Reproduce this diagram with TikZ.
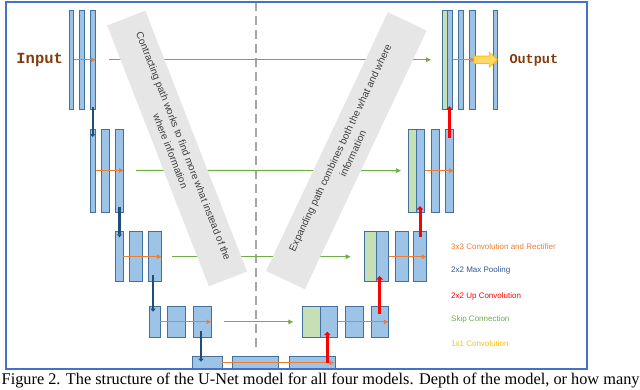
\documentclass[tikz,border=0pt]{standalone}
\usepackage{fontspec}
\setmainfont{Liberation Serif}
\setsansfont{Liberation Sans}
\newfontfamily\monob{Liberation Mono}
\usetikzlibrary{fit,calc,arrows.meta}

\definecolor{barfill}{HTML}{9DC3E6}
\definecolor{barline}{HTML}{41719C}
\definecolor{grnfill}{HTML}{C5E0B4}
\definecolor{convc}{HTML}{ED7D31}
\definecolor{poolc}{HTML}{1F4E79}
\definecolor{upc}{HTML}{FF0000}
\definecolor{skipc}{HTML}{70AD47}
\definecolor{onec}{HTML}{FFC000}
\definecolor{yelfill}{HTML}{FFD966}
\definecolor{framec}{HTML}{4472C4}
\definecolor{boxgrey}{HTML}{E7E6E6}
\definecolor{boxtext}{HTML}{404040}
\definecolor{dashc}{HTML}{A6A6A6}
\definecolor{iotext}{HTML}{843C0C}
\definecolor{legblue}{HTML}{2F5597}

\tikzset{
  blk/.style={draw=barline, fill=barfill, line width=0.7pt, inner sep=0pt, outer sep=0pt},
  gblk/.style={blk, fill=grnfill},
  convar/.style={draw=convc, line width=1.1pt, -{Triangle[length=4.5pt,width=4.5pt]}},
  poolar/.style={draw=poolc, line width=2.4pt, -{Triangle[length=3pt,width=5pt]}},
  uparr/.style={draw=upc, line width=3pt, -{Triangle[length=3.5pt,width=6.5pt]}},
  skipar/.style={draw=skipc, line width=1.2pt, -{Triangle[length=5pt,width=4.5pt]}},
  yarr/.style={fill=yelfill, draw=onec, line width=0.8pt, line join=miter},
  gbox/.style={fill=boxgrey, draw=none, inner sep=0pt, align=center, text=boxtext,
    font=\sffamily\fontsize{10}{14}\selectfont},
  dashline/.style={draw=dashc, line width=2.5pt, dash pattern=on 9pt off 5pt},
  iolabel/.style={text=iotext, inner sep=0pt},
  leg/.style={anchor=west, inner sep=0pt, font=\sffamily\fontsize{8}{9.6}\selectfont}
}
\newcommand{\ublk}[6]{%
  \coordinate (#1-nw) at (#2,#3);
  \coordinate (#1-se) at (#4,#5);
  \node[#6, fit=(#1-nw)(#1-se)] (#1) {};}

\begin{document}
\begin{tikzpicture}[x=1pt,y=-1pt]
\useasboundingbox (0,0) rectangle (640,389);

% dashed divider
\coordinate (dtop) at (256,2);
\coordinate (dbot) at (256,350.7);
\draw[dashline] (dtop) -- (dbot);

% contracting blocks
\ublk{c1a}{69}{10}{73.5}{109.5}{blk}
\ublk{c1b}{79}{10}{84}{109.5}{blk}
\ublk{c1c}{90}{10}{95.5}{109.5}{blk}
\ublk{c2a}{90}{129}{95.5}{212}{blk}
\ublk{c2b}{101}{129}{109.5}{212}{blk}
\ublk{c2c}{115.5}{129}{123.5}{212}{blk}
\ublk{c3a}{115.5}{231.7}{123.3}{281.7}{blk}
\ublk{c3b}{129.7}{231.7}{142.3}{281.7}{blk}
\ublk{c3c}{148.7}{231.7}{161.3}{281.7}{blk}
\ublk{c4a}{149}{306}{160.3}{337.7}{blk}
\ublk{c4b}{167.7}{306}{185.7}{337.7}{blk}
\ublk{c4c}{193}{306}{211}{337.7}{blk}
\ublk{c5a}{192.7}{356}{222}{369.4}{blk}
\ublk{c5b}{232.3}{356}{278.7}{369.4}{blk}
\ublk{c5c}{289.3}{356}{335.7}{369.4}{blk}
% expanding blocks
\ublk{e4a}{302.5}{306}{320.5}{337.7}{gblk}
\ublk{e4b}{320.5}{306}{337.7}{337.7}{blk}
\ublk{e4c}{345.5}{306}{363.3}{337.7}{blk}
\ublk{e4d}{371}{306}{388.3}{337.7}{blk}
\ublk{e3a}{364.7}{231.7}{376.7}{281.7}{gblk}
\ublk{e3b}{376.7}{231.7}{388.7}{281.7}{blk}
\ublk{e3c}{395.3}{231.7}{408}{281.7}{blk}
\ublk{e3d}{413.7}{231.7}{426.3}{281.7}{blk}
\ublk{e2a}{408.7}{129.3}{416.7}{212}{gblk}
\ublk{e2b}{416.7}{129.3}{424.7}{212}{blk}
\ublk{e2c}{431}{129.3}{439.7}{212}{blk}
\ublk{e2d}{445.3}{129.3}{453.7}{212}{blk}
\ublk{e1a}{442.3}{10}{447.3}{109.5}{gblk}
\ublk{e1b}{447.3}{10}{452.7}{109.5}{blk}
\ublk{e1c}{458.3}{10}{463.7}{109.5}{blk}
\ublk{e1d}{469.3}{10}{475}{109.5}{blk}
\ublk{out}{493.3}{10}{497}{109.5}{blk}

% skip connections
\draw[skipar] ($(c1c.east)+(13.5,0)$) -- ($(e1a.west)+(-11.3,0)$);
\draw[skipar] ($(c2c.east)+(12.5,0)$) -- ($(e2a.west)+(-7.7,0)$);
\draw[skipar] ($(c3c.east)+(10.7,0)$) -- ($(e3a.west)+(-14,0)$);
\draw[skipar] ($(c4c.east)+(13,0)$) -- ($(e4a.west)+(-9.2,0)$);

% grey rotated text boxes
\node[gbox, rotate=-68.7, minimum width=280pt, minimum height=41pt] (lbox) at (177.1,148.5)
  {Contracting path works to find more what instead of the\\where information};
\node[gbox, rotate=64.8, minimum width=286pt, minimum height=43pt] (rbox) at (346.4,150.75)
  {Expanding path combines both the what and where\\information};

% 3x3 convolutions
\draw[convar] (c1a.east) -- (c1c.east);
\draw[convar] (c2a.east) -- (c2c.east);
\draw[convar] (c3a.east) -- (c3c.east);
\draw[convar] (c4a.east) -- (c4c.east);
\draw[convar] (c5a.east) -- ($(c5c.east)+(-1.5,0)$);
\draw[convar] (e4b.east) -- (e4d.east);
\draw[convar] (e3b.east) -- (e3d.east);
\draw[convar] (e2b.east) -- (e2d.east);
\draw[convar] (e1b.east) -- (e1d.east);

% max pooling
\draw[poolar] ($(c1c.south)+(0,-2.5)$) -- ($(c1c.south |- c2a.north)+(0,8)$);
\draw[poolar] ($(c2c.south)+(0,-5.3)$) -- ($(c2c.south |- c3a.north)+(0,5.6)$);
\draw[poolar] ($(c3c.south)+(-2,-6.7)$) -- ($(c3c.south |- c4a.north)+(-2,5.7)$);
\draw[poolar] ($(c4c.south)+(-1,-6.7)$) -- ($(c4c.south |- c5a.north)+(-1,5.7)$);

% up convolutions
\draw[uparr] ($(c5c.east)+(-8.4,0)$) -- ($(c5c.east |- e4b.south)+(-8.4,-6)$);
\draw[uparr] ($(e4d.north)+(0,8)$) -- ($(e4d.north |- e3b.south)+(0,-5.7)$);
\draw[uparr] ($(e3d.north)+(0,5.3)$) -- ($(e3d.north |- e2b.south)+(0,-6)$);
\draw[uparr] ($(e2d.north)+(0,8.4)$) -- ($(e2d.north |- e1b.south)+(0,-3.3)$);

% 1x1 convolution
\draw[yarr] ($(e1d.east)+(-1,-3.65)$) -- ++(15.3,0) -- ++(0,-3.85) -- ++(8,7.5)
  -- ++(-8,7.5) -- ++(0,-3.85) -- ++(-15.3,0) -- cycle;

% labels
\node[iolabel, font=\monob\bfseries\fontsize{15.5}{18}\selectfont] (inlab) at (39.7,60) {Input};
\node[iolabel, font=\monob\bfseries\fontsize{13.5}{16}\selectfont] (outlab) at (533.8,60) {Output};

% legend
\node[leg, text=convc] (l1) at (451,246.7) {3x3 Convolution and Rectifier};
\node[leg, text=legblue] (l2) at (451,270) {2x2 Max Pooling};
\node[leg, text=upc] (l3) at (451,296) {2x2 Up Convolution};
\node[leg, text=skipc] (l4) at (451,319) {Skip Connection};
\node[leg, text=onec] (l5) at (451,343.7) {1x1 Convolution};

% frame
\draw[framec, line width=1.5pt] (6,2) rectangle (587,369);

% caption
\node[anchor=base west, inner sep=0pt, font=\fontsize{16.3}{18}\selectfont] (cap) at (1.5,384)
  {Figure 2. The structure of the U-Net model for all four models. Depth of the model, or how many};
\end{tikzpicture}
\end{document}
